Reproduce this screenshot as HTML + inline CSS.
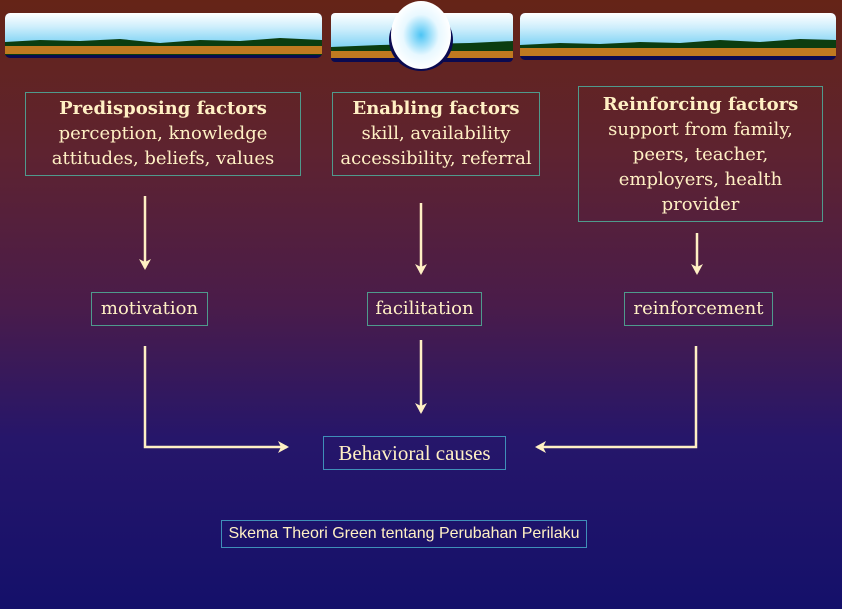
<!DOCTYPE html>
<html><head><meta charset="utf-8"><style>
body{margin:0;width:842px;height:609px;overflow:hidden;background:linear-gradient(180deg,#652417 0%,#5e2330 25%,#4a1c4a 50%,#26166a 72%,#14106a 100%);font-family:"DejaVu Serif","Liberation Serif",serif;color:#fff0c4;position:relative}
.b{position:absolute;border:1px solid #4f9a8c;box-sizing:border-box;text-align:center;line-height:25px;font-size:18px;white-space:nowrap}
.t{font-weight:bold;font-size:18px}
.s{position:absolute;border:1px solid #3f8fb8;box-sizing:border-box;text-align:center;white-space:nowrap}
svg{position:absolute;left:0;top:0}
</style></head><body>
<svg width="842" height="609">
<defs>
<linearGradient id="sky" x1="0" y1="0" x2="0" y2="1"><stop offset="0" stop-color="#ffffff"/><stop offset="0.35" stop-color="#cdeefc"/><stop offset="1" stop-color="#55c4f0"/></linearGradient>
<radialGradient id="gl" cx="0.5" cy="0.5" r="0.5"><stop offset="0" stop-color="#4cc4f4"/><stop offset="0.6" stop-color="#e8f8ff"/><stop offset="1" stop-color="#ffffff"/></radialGradient>
<marker id="a" markerWidth="12" markerHeight="12" refX="9" refY="6" orient="auto" markerUnits="userSpaceOnUse"><path d="M0,0 L11,6 L0,12 L3,6z" fill="#fff0c4"/></marker>
</defs>
<g>
<rect x="5" y="13" width="317" height="45" rx="5" fill="#0a0a50"/>
<rect x="5" y="13" width="317" height="40" rx="5" fill="url(#sky)"/>
<path d="M5,42 L40,40 L80,41 L120,39 L160,43 L200,40 L240,41 L280,38 L322,40 L322,55 L5,55z" fill="#0b3d10"/>
<rect x="5" y="46" width="317" height="8" fill="#c07a20"/>
<rect x="331" y="13" width="182" height="49" rx="4" fill="#0a0a50"/>
<rect x="331" y="13" width="182" height="45" rx="4" fill="url(#sky)"/>
<path d="M331,47 L380,45 L420,44 L470,43 L513,41 L513,58 L331,58z" fill="#0b3d10"/>
<rect x="331" y="51" width="182" height="7" fill="#c07a20"/>
<ellipse cx="421" cy="40" rx="32" ry="31" fill="#0a0a50"/>
<ellipse cx="421" cy="35" rx="30" ry="34" fill="url(#gl)"/>
<rect x="520" y="13" width="316" height="47" rx="5" fill="#0a0a50"/>
<rect x="520" y="13" width="316" height="42" rx="5" fill="url(#sky)"/>
<path d="M520,45 L560,43 L600,44 L640,42 L680,43 L720,40 L760,42 L800,39 L836,40 L836,56 L520,56z" fill="#0b3d10"/>
<rect x="520" y="48" width="316" height="8" fill="#c07a20"/>
</g>
<g stroke="#fff0c4" stroke-width="2.5" fill="none" marker-end="url(#a)">
<path d="M145,196 V268"/>
<path d="M421,203 V273"/>
<path d="M697,233 V273"/>
<path d="M421,340 V412"/>
<path d="M145,346 V447 H287"/>
<path d="M696,346 V447 H537"/>
</g>
</svg>
<div class="b" style="left:25px;top:92px;width:276px;height:84px;padding-top:3px"><div class="t">Predisposing factors</div>perception, knowledge<br>attitudes, beliefs, values</div>
<div class="b" style="left:332px;top:92px;width:208px;height:84px;padding-top:3px"><div class="t">Enabling factors</div>skill, availability<br>accessibility, referral</div>
<div class="b" style="left:578px;top:86px;width:245px;height:136px;padding-top:5px"><div class="t">Reinforcing factors</div>support from family,<br>peers, teacher,<br>employers, health<br>provider</div>
<div class="b" style="left:91px;top:292px;width:117px;height:34px;line-height:32px">motivation</div>
<div class="b" style="left:367px;top:292px;width:115px;height:34px;line-height:32px">facilitation</div>
<div class="b" style="left:624px;top:292px;width:149px;height:34px;line-height:32px">reinforcement</div>
<div class="s" style="left:323px;top:436px;width:183px;height:34px;line-height:32px;font-size:21px;font-family:'Liberation Serif',serif">Behavioral causes</div>
<div class="s" style="left:221px;top:520px;width:366px;height:28px;line-height:26px;font-size:16px;font-family:'Liberation Sans',sans-serif">Skema Theori Green tentang Perubahan Perilaku</div>
</body></html>
